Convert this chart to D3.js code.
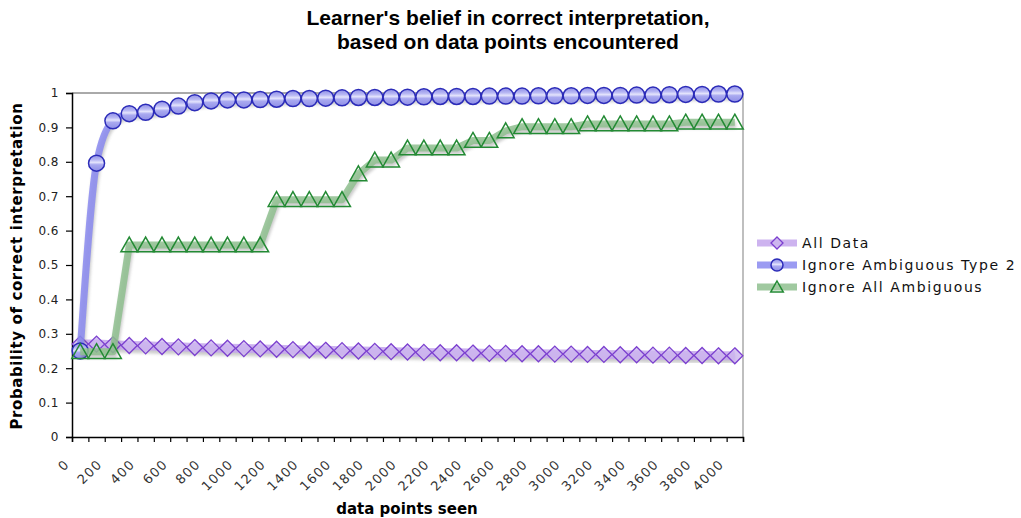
<!DOCTYPE html>
<html>
<head>
<meta charset="utf-8">
<script src="https://cdn.jsdelivr.net/npm/d3@7"></script>
<style>
  body { margin: 0; background: #fff; }
  svg { display: block; }
</style>
</head>
<body>
<svg id="chart"></svg>
<script>
// chart data
var categories = [0,100,200,300,400,500,600,700,800,900,1000,1100,1200,1300,1400,1500,1600,1700,1800,1900,
  2000,2100,2200,2300,2400,2500,2600,2700,2800,2900,3000,3100,3200,3300,3400,3500,3600,3700,3800,3900,4000];

var allData = [0.27,0.27,0.268,0.266,0.265,0.263,0.262,0.26,0.259,0.258,
  0.257,0.256,0.255,0.254,0.253,0.252,0.251,0.25,0.249,0.248,
  0.247,0.246,0.245,0.245,0.244,0.243,0.243,0.242,0.242,0.241,
  0.241,0.24,0.24,0.239,0.239,0.238,0.238,0.237,0.237,0.236,0.236];

var ignoreType2 = [0.25,0.796,0.919,0.94,0.944,0.953,0.962,0.972,0.977,0.98,
  0.98,0.981,0.982,0.984,0.984,0.985,0.986,0.987,0.987,0.988,
  0.988,0.989,0.99,0.99,0.99,0.991,0.991,0.991,0.992,0.992,
  0.992,0.993,0.993,0.993,0.994,0.994,0.995,0.996,0.996,0.997,0.997];

var ignoreAll = [0.248,0.248,0.248,0.558,0.558,0.558,0.558,0.558,0.558,0.558,
  0.558,0.558,0.69,0.69,0.69,0.69,0.69,0.765,0.805,0.805,
  0.84,0.84,0.84,0.84,0.862,0.862,0.89,0.902,0.902,0.902,
  0.902,0.91,0.91,0.91,0.91,0.91,0.91,0.915,0.915,0.915,0.915];

var yTicks = [0,0.1,0.2,0.3,0.4,0.5,0.6,0.7,0.8,0.9,1];
var xTickLabels = categories.filter(function(d, i) { return i % 2 === 0; });

var seriesNames = ["All Data", "Ignore Ambiguous Type 2", "Ignore All Ambiguous"];

var W = 1021, H = 518;
var plotL = 72, plotR = 743, plotT = 93, plotB = 437;

var svg = d3.select("#chart").attr("width", W).attr("height", H)
  .style("font-family", "'DejaVu Sans', Verdana, sans-serif");

var defs = svg.append("defs");
defs.append("filter").attr("id", "blur")
  .attr("x", "-10%").attr("y", "-10%").attr("width", "120%").attr("height", "140%")
  .append("feGaussianBlur").attr("stdDeviation", 1.6);

var grad = defs.append("linearGradient").attr("id", "circfill")
  .attr("x1", 0).attr("y1", 0).attr("x2", 0).attr("y2", 1);
[[0, "#8f8fe6"], [0.3, "#b9b9f4"], [0.45, "#e4e4fc"], [0.6, "#a9a9f0"], [1, "#8f8fe6"]].forEach(function(s) {
  grad.append("stop").attr("offset", s[0]).attr("stop-color", s[1]);
});

var x = d3.scaleBand().domain(categories).range([plotL, plotR]);
var y = d3.scaleLinear().domain([0, 1]).range([plotB, plotT]);
var xEdge = d3.scaleLinear().domain([0, categories.length]).range([plotL, plotR]);
function cx(c) { return x(c) + x.bandwidth() / 2; }

// title
svg.append("text")
  .attr("x", 508).attr("y", 25)
  .attr("text-anchor", "middle")
  .style("font-family", "'Liberation Sans', Arial, sans-serif")
  .style("font-weight", "bold").style("font-size", "21px")
  .text("Learner's belief in correct interpretation,");
svg.append("text")
  .attr("x", 508).attr("y", 49)
  .attr("text-anchor", "middle")
  .style("font-family", "'Liberation Sans', Arial, sans-serif")
  .style("font-weight", "bold").style("font-size", "21px")
  .text("based on data points encountered");

// plot frame
svg.append("line").attr("x1", plotL).attr("x2", plotR).attr("y1", plotT).attr("y2", plotT)
  .attr("stroke", "#555").attr("stroke-width", 1);
svg.append("line").attr("x1", plotR).attr("x2", plotR).attr("y1", plotT).attr("y2", plotB)
  .attr("stroke", "#aaa").attr("stroke-width", 1.5);

// y axis
var yAxis = svg.append("g")
  .attr("transform", "translate(" + plotL + ",0)")
  .call(d3.axisLeft(y).tickValues(yTicks).tickSize(6).tickPadding(7).tickFormat(function(d) { return String(d); }));
yAxis.select(".domain").attr("stroke", "#000").attr("stroke-width", 1.5);
yAxis.selectAll(".tick line").attr("stroke", "#000").attr("stroke-width", 1.2);
yAxis.selectAll(".tick text")
  .style("font-family", "'DejaVu Sans', Verdana, sans-serif")
  .style("font-size", "12px").style("letter-spacing", "0.5px").attr("fill", "#222");

// x axis: ticks on category edges, labels on every second category
var xAxis = svg.append("g")
  .attr("transform", "translate(0," + plotB + ")")
  .call(d3.axisBottom(xEdge).tickValues(d3.range(categories.length + 1)).tickSize(5).tickFormat(""));
xAxis.select(".domain").attr("stroke", "#000").attr("stroke-width", 1.5);
xAxis.selectAll(".tick line").attr("stroke", "#000").attr("stroke-width", 1.2);

svg.append("g").selectAll("text")
  .data(xTickLabels)
  .enter().append("text")
  .attr("transform", function(d) { return "translate(" + (cx(d) - 10) + "," + (plotB + 28) + ") rotate(-45)"; })
  .attr("text-anchor", "end")
  .style("font-size", "13px").style("letter-spacing", "1.2px")
  .attr("fill", "#333")
  .text(function(d) { return d; });

// axis titles
svg.append("text")
  .attr("transform", "translate(22,266) rotate(-90)")
  .attr("text-anchor", "middle")
  .style("font-weight", "bold").style("font-size", "15px").style("letter-spacing", "0.6px")
  .text("Probability of correct interpretation");
svg.append("text")
  .attr("x", 407).attr("y", 514)
  .attr("text-anchor", "middle")
  .style("font-weight", "bold").style("font-size", "15px")
  .text("data points seen");

// marker shapes
function diamondPath(s) { return "M0," + (-s) + "L" + s + ",0L0," + s + "L" + (-s) + ",0Z"; }
function trianglePath(s) { return "M0," + (-s) + "L" + (s * 1.05) + "," + (s * 0.85) + "L" + (-s * 1.05) + "," + (s * 0.85) + "Z"; }

var series = [
  { name: seriesNames[0], values: allData, line: "#c4a6ec", curve: d3.curveLinear, lw: 9,
    mark: function(g, s) { g.append("path").attr("d", diamondPath(s)).attr("fill", "#cdb6ef").attr("fill-opacity", 0.8)
      .attr("stroke", "#7b3fcf").attr("stroke-width", 1.3); } },
  { name: seriesNames[1], values: ignoreType2, line: "#8a8af0", curve: d3.curveMonotoneX, lw: 7,
    mark: function(g, s) { g.append("circle").attr("r", s).attr("fill", "url(#circfill)")
      .attr("stroke", "#2b2bb8").attr("stroke-width", 1.5); } },
  { name: seriesNames[2], values: ignoreAll, line: "#8fbf8f", curve: d3.curveLinear, lw: 7,
    mark: function(g, s) { g.append("path").attr("d", trianglePath(s)).attr("fill", "none")
      .attr("stroke", "#238a34").attr("stroke-width", 1.5); } }
];

series.forEach(function(sr) {
  var pts = categories.map(function(c, i) { return [cx(c), y(sr.values[i])]; });
  var line = d3.line().curve(sr.curve);

  // soft shadow
  var sh = svg.append("g").attr("transform", "translate(1,3)").attr("filter", "url(#blur)").attr("opacity", 0.3);
  sh.append("path").attr("d", line(pts)).attr("fill", "none").attr("stroke", "#555").attr("stroke-width", sr.lw);

  svg.append("path").attr("d", line(pts)).attr("fill", "none")
    .attr("stroke", sr.line).attr("stroke-width", sr.lw).attr("stroke-opacity", 0.85)
    .attr("stroke-linejoin", "round");

  svg.append("g").selectAll("g")
    .data(pts)
    .enter().append("g")
    .attr("transform", function(p) { return "translate(" + p[0] + "," + p[1] + ")"; })
    .each(function() { sr.mark(d3.select(this), 8); });
});

// legend
var legend = svg.append("g").attr("transform", "translate(757,0)");
var legY = [243, 265, 287];
series.forEach(function(sr, i) {
  var g = legend.append("g").attr("transform", "translate(0," + legY[i] + ")");
  g.append("line").attr("x1", 0).attr("x2", 40).attr("stroke", sr.line).attr("stroke-width", 7).attr("stroke-opacity", 0.85);
  var m = g.append("g").attr("transform", "translate(20,0)");
  sr.mark(m, 6);
  g.append("text").attr("x", 45).attr("y", 5)
    .style("font-size", "14px").style("letter-spacing", "1.6px").attr("fill", "#111")
    .text(sr.name);
});
</script>
</body>
</html>
